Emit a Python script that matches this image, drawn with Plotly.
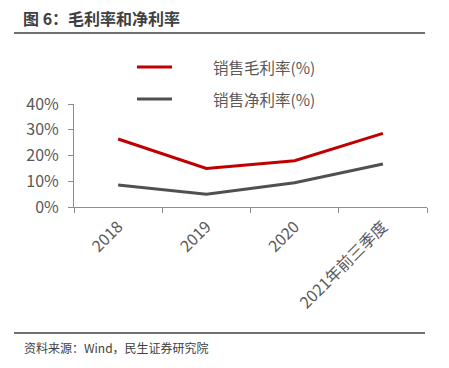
import plotly.graph_objects as go

categories = ["2018", "2019", "2020", "2021年前三季度"]
gross_margin = [26.4, 15.0, 18.0, 28.6]
net_margin = [8.5, 5.0, 9.4, 16.7]
y_ticks = [0, 10, 20, 30, 40]
y_tick_labels = ["0%", "10%", "20%", "30%", "40%"]
series_names = ["销售毛利率(%)", "销售净利率(%)"]
series_colors = ["#C00000", "#505050"]

FONT = "Noto Sans CJK SC, Microsoft YaHei, sans-serif"
TXT = "#595959"

# plot area in pixels
L, R, T, B = 74, 427, 104, 207
W, H = R - L, B - T


def px(x):
    return (x - L) / W


def py(y):
    return (B - y) / H


fig = go.Figure()
for name, vals, col in zip(series_names, [gross_margin, net_margin], series_colors):
    fig.add_trace(go.Scatter(x=categories, y=vals, mode="lines", name=name,
                             line=dict(color=col, width=3), showlegend=False))

annotations = [
    dict(text="<b>图 6：毛利率和净利率</b>", xref="paper", yref="paper",
         x=px(21), y=py(18), xanchor="left", yanchor="middle",
         showarrow=False, font=dict(size=16, color="#404040", family=FONT)),
    dict(text="资料来源：Wind，民生证券研究院", xref="paper", yref="paper",
         x=px(22), y=py(347), xanchor="left", yanchor="middle",
         showarrow=False, font=dict(size=12, color="#404040", family=FONT)),
]
shapes = [
    dict(type="line", xref="paper", yref="paper", x0=px(14), x1=px(425),
         y0=py(33), y1=py(33), line=dict(color="#707070", width=2)),
    dict(type="line", xref="paper", yref="paper", x0=px(14), x1=px(425),
         y0=py(333), y1=py(333), line=dict(color="#707070", width=2)),
]
# manual legend
for i, (name, col) in enumerate(zip(series_names, series_colors)):
    yy = 67 + 32 * i
    shapes.append(dict(type="line", xref="paper", yref="paper", x0=px(137), x1=px(172),
                       y0=py(yy), y1=py(yy), line=dict(color=col, width=3)))
    annotations.append(dict(text=name, xref="paper", yref="paper", x=px(211), y=py(yy),
                            xanchor="left", yanchor="middle", showarrow=False,
                            font=dict(size=15.5, color=TXT, family=FONT)))

fig.update_layout(
    width=449, height=368,
    margin=dict(l=L, r=449 - R, t=T, b=368 - B, autoexpand=False),
    paper_bgcolor="white", plot_bgcolor="white",
    font=dict(family=FONT, size=16, color=TXT),
    showlegend=False,
    xaxis=dict(type="category", range=[-0.5, len(categories) - 0.5],
               showline=True, linecolor="#8c8c8c", linewidth=1,
               ticks="outside", ticklen=5, tickcolor="#8c8c8c", tickson="boundaries",
               tickangle=-45, showgrid=False, zeroline=False, automargin=False,
               ticklabelstandoff=3,
               tickfont=dict(size=16, color=TXT)),
    yaxis=dict(range=[0, 40], tickvals=y_ticks, ticktext=y_tick_labels,
               showline=True, linecolor="#8c8c8c", linewidth=1,
               ticks="outside", ticklen=5, tickcolor="#8c8c8c", automargin=False,
               ticklabelstandoff=6,
               showgrid=False, zeroline=False, tickfont=dict(size=16, color=TXT)),
    annotations=annotations,
    shapes=shapes,
)

fig.write_html("out.html", config={"displayModeBar": False},
               post_script="document.body.style.margin='0px';")
